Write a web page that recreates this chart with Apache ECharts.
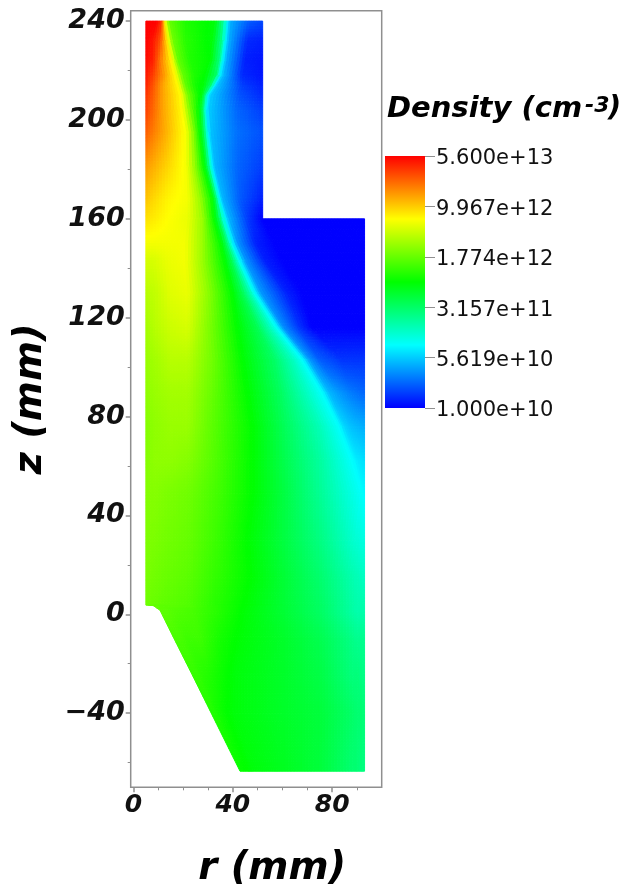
<!DOCTYPE html>
<html><head><meta charset="utf-8">
<style>html,body{margin:0;padding:0;background:#fff}#c{width:623px;height:885px}</style>
<script src="https://cdn.jsdelivr.net/npm/echarts@6/dist/echarts.min.js"></script>
</head><body><div id="c"></div>
<script>
// Colour scale (bottom to top), and its tick labels
const colourStops = ['#0000ff','#00ffff','#00ff00','#ffff00','#ff0000'];
const colourBarSegments = [[0,25],[25,50],[50,75],[75,100]];
const densityTickLabels = ['1.000e+10','5.619e+10','3.157e+11','1.774e+12','9.967e+12','5.600e+13'];
const rTicks = [0,40,80];
const rMinorTicks = [10,20,30,50,60,70,90];
const zTicks = [-40,0,40,80,120,160,200,240];
const zMinorTicks = [-60,-20,20,60,100,140,180,220];

// Mesh rows: height z (mm) of each row
const zRows = [240,232,224,218,214,210,204,195,181,168,160,160,150,143,130,116,103,89.5,76,62,49,30,15,3.8,3.5,1.6,-10,-25,-40,-63.5];
// radius r (mm) of each mesh node along the row
const rNodes = [
[5,9.5,11.5,12.7,14.5,21,33,36.5,37.7,39.3,47,52,52],
[5,8,11,14,16,21,32,35.8,37,38.6,46,52,52],
[5,8,11,15.8,18,23,31,34.7,36,37.6,45,52,52],
[5,8,12,17.2,20,24.5,29,33.6,34.8,36.4,44,52,52],
[5,8,12,18.3,21,25,28.5,31.6,32.6,34,44,52,52],
[5,8,12,19.4,22,26,27.8,29.2,30,31.3,43,52,52],
[5,8,12,20,23,26.5,28,28.7,29.4,30.5,42,52,52],
[5,8,13,21.5,24.5,27,28.5,29.3,30.1,31.3,42,52,52],
[5,8,14,21.5,25,28.7,30,30.9,31.7,33,42,52,52],
[5,8,14,22,27,32,33.3,34,34.8,36,43,52,52],
[5,8,14,22,28,32.8,34.6,35.8,37,38.5,46,52,52],
[5,8,14,22,28,32.8,34.6,35.8,37,38.5,46,52,93],
[5,8,14,21,28,35.5,37.4,38.8,40,42,49.5,57,93],
[5,8,14,21,28,37,39.7,41.5,43,45.2,53,60,93],
[5,9,15,22,30,40,44,47,49,51.5,62,68,93],
[5,9,15,22,31,42,50,55,58,60.5,67,72,93],
[5,9,15,22,32,44,57,64.5,68.3,71,75,84,93],
[5,9,15,22,32,46,59,70,76.3,79,83,88,93],
[5,9,15,22,32,48,60,75,83,85,87.5,90,93],
[5,9,15,22,33,48,60,76,88.4,89.5,90.5,92,93],
[5,9,15,22,33,48,60,76,92.5,92.6,92.7,92.8,93],
[5,9,15,22,33,46,60,76,90,91,91.5,92,93],
[5,9,15,22,33,47,60,76,88,90,91,92,93],
[5,9,15,22,33,46,60,76,88,90,91,92,93],
[8,11,16,23,33,46,60,76,88,90,91,92,93],
[10.7,13,17,24,33.5,45,60,76,88,90,91,92,93],
[16.4,19,22,27,35,43,60,76,88,90,91,92,93],
[23.9,26,28,31,36,41,60,76,88,90,91,92,93],
[31.3,33,34,36,38,41,60,76,88,90,91,92,93],
[42.9,44,45,46,47,48,60,76,88,90,91,92,93]
];
// density at each node, as a percentage of the log colour scale (0 = 1e10, 100 = 5.6e13 cm-3)
const densityLevels = [
[100,100,95,76,60,53,49,35,25,17,9,7,7],
[100,98,92,76,61,54,49,36,25,17,4,3,3],
[99,97,88,75,60,53,50,38,25,17,3,2,2],
[98,94,86,75,60,53,50,40,25,18,4,2,2],
[97,92,84,75,60,52,49,38,25,19,6,3,3],
[95,91,84,75,62,52,48,36,25,20,8,4,4],
[94,90,84,75,62,50,42,33,25,20,10,6,6],
[91,88,83,74,62,50,42,33,25,19,11,8,8],
[85,83,79,74,64,50,42,33,25,18,10,6,6],
[81,79,76,74,65,50,42,33,25,18,9,3,3],
[78,77,75,73,65,50,42,33,25,18,6,0,0],
[78,77,75,73,65,50,42,33,25,18,6,0,0],
[74,74,74,74,65,50,42,33,25,15,3,0,0],
[71,71,73,74,65,50,42,33,25,15,3,0,0],
[68,69,72,73,64,50,42,33,25,15,3,0,0],
[66,68,70,71,62,50,42,32,25,14,5,0,0],
[65,66,68,68,61,50,40,31,25,15,9,5,5],
[64,65,66,66,60,50,41,31,25,18,15,12,10],
[63,64,65,65,59,50,42,32,25,21,19,18,17],
[63,64,64,63,58,50,43,34,25,24,23,22.5,22],
[63,63,62,61,57,50,44,35,25,25,25,25,24.5],
[62.5,62,61,60,56,50,44,37,29,29,28,28,28],
[62,61,60,59,55,50,45,39,33,32,32,31,31],
[61,60,59,58,54,49.5,45,40,34,33,33,33,33],
[60,59,59,58,54,49.5,45,40,34,33,33,33,33],
[59,59,58,57,54,49.5,45,40,34,33,33,33,33],
[57,57,56,56,52,49.5,46,42,37,36,36,36,36],
[55,55,54,53,51,49,46,43,38,38,38,37,37],
[53,53,52,51,50,49,46,44,40,39,39,39,38],
[50.5,50.5,50,50,49.5,49,47,44,39,39,38,38,37]
];

const meshCells = [];
for (let j = 0; j < zRows.length - 1; j++) {
  for (let i = 0; i < rNodes[j].length - 1; i++) {
    meshCells.push([j, i, densityLevels[j][i]]);
  }
}
const levelColour = v => echarts.color.lerp(Math.max(0, Math.min(100, v)) / 100, colourStops);

// Shading of one mesh cell, positioned through the axes
function renderCell(params, api) {
  const j = api.value(0), i = api.value(1);
  const corner = (a, b) => api.coord([rNodes[a][b], zRows[a]]);
  const p00 = corner(j, i), p10 = corner(j, i + 1), p01 = corner(j + 1, i), p11 = corner(j + 1, i + 1);
  const v00 = densityLevels[j][i], v10 = densityLevels[j][i + 1], v01 = densityLevels[j + 1][i], v11 = densityLevels[j + 1][i + 1];
  const w = Math.max(p10[0] - p00[0], p11[0] - p01[0]), h = Math.abs(p01[1] - p00[1]);
  if (w <= 0.01 || h <= 0.01) return { type: 'group', children: [] };
  const nx = Math.max(1, Math.ceil(w / 3)), ny = Math.max(1, Math.ceil(h / 3));
  const mix = (a, b, c, d, s, t) => (a * (1 - s) + b * s) * (1 - t) + (c * (1 - s) + d * s) * t;
  const pt = (s, t) => [mix(p00[0], p10[0], p01[0], p11[0], s, t), mix(p00[1], p10[1], p01[1], p11[1], s, t)];
  const children = [];
  for (let a = 0; a < nx; a++) for (let b = 0; b < ny; b++) {
    const s0 = a / nx, s1 = (a + 1) / nx, t0 = b / ny, t1 = (b + 1) / ny;
    const col = levelColour(mix(v00, v10, v01, v11, (s0 + s1) / 2, (t0 + t1) / 2));
    children.push({
      type: 'polygon', silent: true,
      shape: { points: [pt(s0, t0), pt(s1, t0), pt(s1, t1), pt(s0, t1)] },
      style: { fill: col, stroke: col, lineWidth: 1 }
    });
  }
  return { type: 'group', children };
}

// One gradient rectangle of the colour bar
function renderBarSegment(params, api) {
  const a = api.coord([0, api.value(0)]), b = api.coord([1, api.value(1)]);
  return {
    type: 'rect', silent: true,
    shape: { x: a[0], y: b[1], width: b[0] - a[0], height: a[1] - b[1] },
    style: { fill: new echarts.graphic.LinearGradient(0, 1, 0, 0, [
      { offset: 0, color: levelColour(api.value(0)) },
      { offset: 1, color: levelColour(api.value(1)) }
    ]) }
  };
}

const gray = '#8f8f8f';
const tickFont = { fontFamily: 'DejaVu Sans', fontStyle: 'italic', fontWeight: 'bold', color: '#111' };
const titleFont = { fontFamily: 'DejaVu Sans', fontStyle: 'italic', fontWeight: 'bold', color: '#000' };
const RANGE = { rMin: -1.1, rMax: 99.9, zMin: -70, zMax: 244.2 };
const noLine = { show: false, onZero: false };
const minusSign = v => String(v).replace('-', '\u2212');

const chart = echarts.init(document.getElementById('c'), null, { renderer: 'canvas' });
chart.setOption({
  animation: false,
  backgroundColor: '#fff',
  grid: [
    { left: 130.7, top: 10.7, width: 251, height: 776.6, show: true, borderColor: gray, borderWidth: 1.5, backgroundColor: 'transparent', outerBoundsMode: 'none', containLabel: false },
    { left: 385, top: 156, width: 40, height: 252, show: false, outerBoundsMode: 'none', containLabel: false },
    { left: 385, top: 159, width: 40, height: 252, show: false, outerBoundsMode: 'none', containLabel: false }
  ],
  xAxis: [
    { type: 'value', gridIndex: 0, position: 'bottom', min: RANGE.rMin, max: RANGE.rMax, splitLine: { show: false },
      axisLine: noLine,
      axisTick: { show: true, length: 5, customValues: rTicks, lineStyle: { color: gray, width: 1.5 } },
      axisLabel: { customValues: rTicks, margin: 6, fontSize: 25, ...tickFont },
      name: 'r (mm)', nameLocation: 'middle', nameGap: 62,
      nameTextStyle: { fontSize: 38.5, padding: [0, 0, 0, 32], ...titleFont } },
    { type: 'value', gridIndex: 0, position: 'bottom', min: RANGE.rMin, max: RANGE.rMax, splitLine: { show: false },
      axisLine: noLine, axisLabel: { show: false },
      axisTick: { show: true, length: 3, customValues: rMinorTicks, lineStyle: { color: gray, width: 1 } } },
    { type: 'value', gridIndex: 1, position: 'bottom', min: 0, max: 1, show: false, axisLine: noLine },
    { type: 'value', gridIndex: 2, position: 'bottom', min: 0, max: 1, show: false, axisLine: noLine }
  ],
  yAxis: [
    { type: 'value', gridIndex: 0, position: 'left', min: RANGE.zMin, max: RANGE.zMax, splitLine: { show: false },
      axisLine: noLine,
      axisTick: { show: true, length: 5, customValues: zTicks, lineStyle: { color: gray, width: 1.5 } },
      axisLabel: { customValues: zTicks, margin: 6, fontSize: 27, formatter: minusSign, ...tickFont },
      name: 'z (mm)', nameLocation: 'middle', nameGap: 80, nameRotate: 90,
      nameTextStyle: { fontSize: 38.5, ...titleFont } },
    { type: 'value', gridIndex: 0, position: 'left', min: RANGE.zMin, max: RANGE.zMax, splitLine: { show: false },
      axisLine: noLine, axisLabel: { show: false },
      axisTick: { show: true, length: 3, customValues: zMinorTicks, lineStyle: { color: gray, width: 1 } } },
    { type: 'value', gridIndex: 1, min: 0, max: 100, interval: 20, position: 'right', splitLine: { show: false },
      axisLine: noLine, axisLabel: { show: false },
      axisTick: { show: true, length: 10, lineStyle: { color: gray, width: 1 } } },
    { type: 'value', gridIndex: 2, min: 0, max: 100, interval: 20, position: 'right', splitLine: { show: false },
      axisLine: noLine, axisTick: { show: false },
      axisLabel: { margin: 11, fontSize: 21, fontFamily: 'DejaVu Sans', color: '#111',
        formatter: v => densityTickLabels[Math.round(v / 20)] } }
  ],
  graphic: [
    { type: 'text', left: 387, top: 95, style: { text: 'Density (cm', font: 'italic bold 29px "DejaVu Sans"', fill: '#000' } },
    { type: 'text', left: 585, top: 95, style: { text: '-3', font: 'italic bold 22px "DejaVu Sans"', fill: '#000' } },
    { type: 'text', left: 608, top: 94, style: { text: ')', font: 'italic bold 29px "DejaVu Sans"', fill: '#000' } }
  ],
  series: [{
    type: 'custom', xAxisIndex: 0, yAxisIndex: 0, coordinateSystem: 'cartesian2d',
    progressive: 0, clip: false, silent: true,
    data: meshCells, encode: { x: 0, y: 1 }, renderItem: renderCell
  }, {
    type: 'custom', xAxisIndex: 2, yAxisIndex: 2, coordinateSystem: 'cartesian2d',
    progressive: 0, clip: false, silent: true,
    data: colourBarSegments, encode: { y: [0, 1] }, renderItem: renderBarSegment
  }]
});
</script></body></html>
